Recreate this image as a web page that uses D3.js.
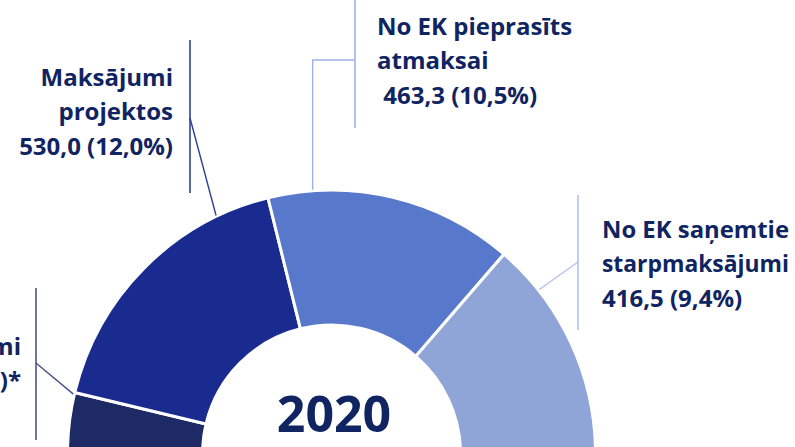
<!DOCTYPE html>
<html>
<head>
<meta charset="utf-8">
<script src="https://cdn.jsdelivr.net/npm/d3@7"></script>
<style>
  html, body { margin: 0; padding: 0; background: #ffffff; overflow: hidden; }
  svg { display: block; }
</style>
</head>
<body>
<svg id="chart" width="795" height="447"></svg>
<script>
// ---- data (EUR million, share of total) ----
const categories = ["Avansa maksājumi", "Maksājumi projektos", "No EK pieprasīts atmaksai", "No EK saņemtie starpmaksājumi"];
const values = [114.0, 530.0, 463.3, 416.5];
const labelLines = [
  ["Avansa maksājumi", "114,0 (2,6%)*"],
  ["Maksājumi", "projektos", "530,0 (12,0%)"],
  ["No EK pieprasīts", "atmaksai", " 463,3 (10,5%)"],
  ["No EK saņemtie", "starpmaksājumi", "416,5 (9,4%)"]
];
const centerLabel = "2020";

// ---- styles / layout ----
const colors = ["#1d2a66", "#1a2b8f", "#5878cc", "#8fa5d8"];
const lineColors = ["#46538a", "#2f3f9c", "#9fb1e6", "#b3c2ea"];
const textColor = "#0f2461";
const cx = 331.5, cy = 454, R = 264, r = 129;
const W = 795;

const svg = d3.select("#chart");
const g = svg.append("g").attr("transform", `translate(${cx},${cy})`);

const pie = d3.pie().sort(null).startAngle(-Math.PI / 2).endAngle(Math.PI / 2);
const arcs = pie(values);
const arc = d3.arc().innerRadius(r).outerRadius(R);

g.selectAll("path.slice").data(arcs).enter().append("path")
  .attr("class", "slice")
  .attr("d", arc)
  .attr("fill", (d, i) => colors[i])
  .attr("stroke", "#ffffff")
  .attr("stroke-width", 3)
  .attr("stroke-linejoin", "round");

// leader line layout: anchor position within slice, vertical bar, joint
function onArc(a, rad) { return [cx + rad * Math.sin(a), cy - rad * Math.cos(a)]; }
const leaderLayout = [
  { t: 0.97, barX: 36, barY0: 288, barY1: 440, joinY: 363, type: "diag" },
  { t: 0.81, barX: 190, barY0: 40, barY1: 193, joinY: 118, type: "diag" },
  { t: 0.18, barX: 355, barY0: 0, barY1: 128, joinY: 60, type: "elbow" },
  { t: 0.22, barX: 578, barY0: 195, barY1: 330, joinY: 262, type: "diag" }
];
const lines = svg.append("g");
arcs.forEach((d, i) => {
  const L = leaderLayout[i];
  const a = d.startAngle + (d.endAngle - d.startAngle) * L.t;
  const p = onArc(a, R + 1);
  lines.append("line").attr("x1", L.barX).attr("x2", L.barX)
    .attr("y1", L.barY0).attr("y2", L.barY1)
    .attr("stroke", lineColors[i]).attr("stroke-width", 1.6);
  const path = L.type === "elbow"
    ? `M${L.barX},${L.joinY}H${p[0]}V${p[1]}`
    : `M${L.barX},${L.joinY}L${p[0]},${p[1]}`;
  lines.append("path").attr("d", path).attr("fill", "none")
    .attr("stroke", lineColors[i]).attr("stroke-width", 1.4);
});

// labels
const labelLayout = [
  { x: 21, y: 355, anchor: "end" },
  { x: 173, y: 86, anchor: "end" },
  { x: 377, y: 35, anchor: "start" },
  { x: 602, y: 238, anchor: "start" }
];
const fontFamily = "'Open Sans', 'Noto Sans', sans-serif";
const fs = 24, lh = 34.4;
labelLines.forEach((lns, i) => {
  const L = labelLayout[i];
  const t = svg.append("text")
    .attr("x", L.x).attr("y", L.y)
    .attr("text-anchor", L.anchor)
    .attr("fill", textColor)
    .attr("font-family", fontFamily)
    .attr("font-weight", 700)
    .attr("font-size", fs)
    .style("white-space", "pre");
  lns.forEach((s, k) => {
    const sp = t.append("tspan").attr("x", L.x).attr("dy", k === 0 ? 0 : lh).text(s);
    if (L.anchor === "start") {
      const w = sp.node().getComputedTextLength();
      const maxW = W - 6 - L.x;
      if (w > maxW) sp.attr("font-size", fs * maxW / w);
    }
  });
});

svg.append("text")
  .attr("x", cx + 2.5).attr("y", 432)
  .attr("text-anchor", "middle")
  .attr("fill", textColor)
  .attr("font-family", fontFamily)
  .attr("font-weight", 700)
  .attr("font-size", 50)
  .text(centerLabel);
</script>
</body>
</html>
